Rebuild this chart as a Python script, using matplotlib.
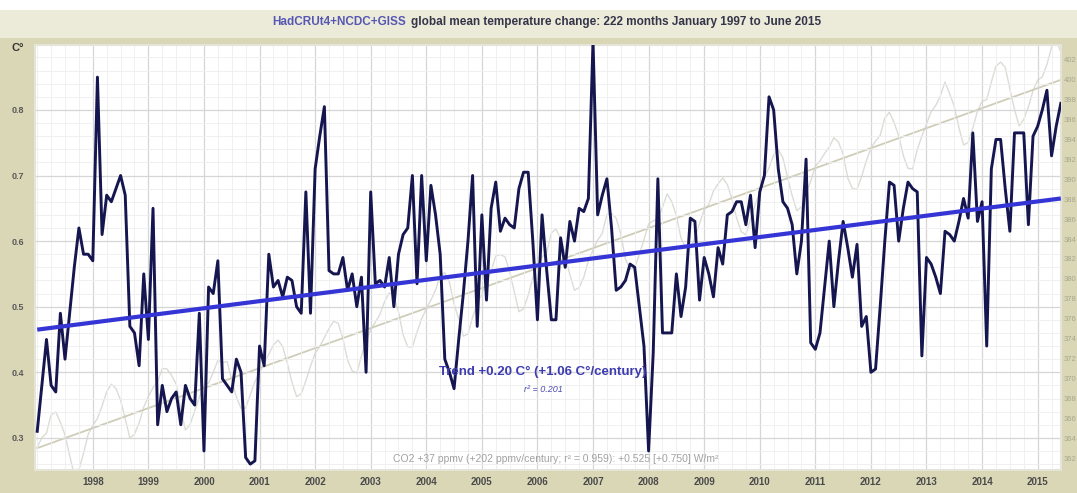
import numpy as np
import matplotlib
matplotlib.use("Agg")
import matplotlib.pyplot as plt
from matplotlib.ticker import MultipleLocator

plt.rcParams["font.family"] = ["Liberation Sans", "DejaVu Sans"]

# ---- data -------------------------------------------------------------
START_YEAR = 1997
# mean of HadCRUT4, NCDC and GISS monthly anomalies, Jan 1997 .. Jun 2015 (C)
temp = [
    0.31, 0.38, 0.45, 0.38, 0.37, 0.49, 0.42, 0.49, 0.56, 0.62, 0.58, 0.58,
    0.57, 0.85, 0.61, 0.67, 0.66, 0.68, 0.70, 0.67, 0.47, 0.46, 0.41, 0.55,
    0.45, 0.65, 0.32, 0.38, 0.34, 0.36, 0.37, 0.32, 0.38, 0.36, 0.35, 0.49,
    0.28, 0.53, 0.52, 0.57, 0.39, 0.38, 0.37, 0.42, 0.40, 0.27, 0.26, 0.265,
    0.44, 0.41, 0.58, 0.53, 0.54, 0.515, 0.545, 0.54, 0.50, 0.49, 0.675, 0.49,
    0.71, 0.76, 0.805, 0.555, 0.55, 0.55, 0.575, 0.525, 0.55, 0.50, 0.545, 0.40,
    0.675, 0.535, 0.54, 0.53, 0.575, 0.50, 0.58, 0.61, 0.62, 0.70, 0.535, 0.70,
    0.57, 0.685, 0.64, 0.58, 0.42, 0.40, 0.375, 0.45, 0.52, 0.60, 0.70, 0.47,
    0.64, 0.51, 0.65, 0.69, 0.615, 0.635, 0.625, 0.62, 0.68, 0.705, 0.705, 0.60,
    0.48, 0.64, 0.555, 0.48, 0.48, 0.605, 0.56, 0.63, 0.60, 0.65, 0.645, 0.665,
    0.905, 0.64, 0.67, 0.695, 0.62, 0.525, 0.53, 0.54, 0.565, 0.56, 0.50, 0.44,
    0.28, 0.43, 0.695, 0.46, 0.46, 0.46, 0.55, 0.485, 0.53, 0.635, 0.63, 0.51,
    0.575, 0.55, 0.515, 0.59, 0.565, 0.64, 0.645, 0.66, 0.66, 0.625, 0.67, 0.59,
    0.675, 0.70, 0.82, 0.80, 0.71, 0.66, 0.65, 0.625, 0.55, 0.60, 0.725, 0.445,
    0.435, 0.46, 0.53, 0.60, 0.50, 0.57, 0.63, 0.59, 0.545, 0.595, 0.47, 0.485,
    0.40, 0.405, 0.50, 0.60, 0.69, 0.685, 0.60, 0.65, 0.69, 0.68, 0.675, 0.425,
    0.575, 0.565, 0.545, 0.52, 0.615, 0.61, 0.60, 0.63, 0.665, 0.635, 0.765, 0.63,
    0.66, 0.44, 0.71, 0.755, 0.755, 0.68, 0.615, 0.765, 0.765, 0.765, 0.625, 0.76,
    0.775, 0.80, 0.83, 0.73, 0.775, 0.81,
]

# Mauna Loa monthly CO2, ppmv
co2 = [
    363.09, 364.03, 364.51, 366.35, 366.64, 365.59, 364.31, 362.25, 360.29, 360.82, 362.49, 364.38,
    365.27, 365.98, 367.24, 368.66, 369.42, 368.99, 367.82, 365.95, 364.02, 364.40, 365.52, 367.13,
    368.18, 369.07, 369.68, 370.99, 370.96, 370.30, 369.45, 366.90, 364.81, 365.37, 366.72, 368.10,
    369.29, 369.54, 370.60, 371.82, 371.58, 371.70, 369.86, 368.13, 367.00, 367.03, 368.37, 369.67,
    370.59, 371.51, 372.43, 373.37, 373.85, 373.21, 371.51, 369.61, 368.18, 368.45, 369.76, 371.24,
    372.53, 373.20, 374.12, 375.02, 375.76, 375.52, 374.01, 371.85, 370.75, 370.55, 372.25, 373.79,
    374.88, 375.64, 376.45, 377.73, 378.60, 378.28, 376.70, 374.38, 373.17, 373.15, 374.66, 375.99,
    377.00, 377.87, 378.88, 380.35, 380.62, 379.69, 377.47, 376.01, 374.25, 374.46, 376.16, 377.51,
    378.46, 379.73, 380.77, 382.29, 382.45, 382.21, 380.74, 378.74, 376.70, 377.00, 378.35, 380.11,
    381.38, 382.19, 382.67, 384.61, 385.03, 384.05, 382.46, 380.41, 378.85, 379.13, 380.15, 381.82,
    382.89, 383.90, 384.58, 386.50, 386.56, 386.10, 384.50, 381.99, 380.96, 381.12, 382.45, 383.95,
    385.52, 385.82, 386.03, 387.21, 388.54, 387.76, 386.36, 384.09, 383.18, 382.99, 384.19, 385.56,
    386.94, 387.48, 388.82, 389.55, 390.14, 389.48, 388.03, 386.11, 384.74, 384.43, 386.02, 387.42,
    388.71, 390.20, 391.17, 392.46, 393.00, 392.15, 390.20, 388.35, 386.85, 387.24, 388.67, 389.79,
    391.33, 391.86, 392.60, 393.25, 394.19, 393.74, 392.51, 390.13, 389.08, 389.00, 390.28, 391.86,
    393.12, 393.86, 394.40, 396.18, 396.74, 395.71, 394.36, 392.39, 391.11, 391.05, 392.98, 394.34,
    395.55, 396.80, 397.43, 398.41, 399.78, 398.60, 397.32, 395.20, 393.45, 393.70, 395.16, 396.84,
    397.85, 398.01, 399.77, 401.38, 401.78, 401.25, 399.10, 397.03, 395.38, 396.03, 397.28, 398.91,
    399.98, 400.28, 401.54, 403.28, 403.96, 402.80,
]

# linear trends (start value, total change over the period)
temp_trend_start, temp_trend_rise = 0.465, 0.20
co2_trend_start, co2_trend_rise = 363.0, 37.0

years = list(range(1998, 2016))

# ---- figure -----------------------------------------------------------
W, H = 1077, 493
fig = plt.figure(figsize=(W / 100, H / 100), dpi=100, facecolor="#d9d7b6")

# pale title strip and white top margin
fig.patches.append(plt.Rectangle((0, 1 - 38 / H), 1, 28 / H, transform=fig.transFigure,
                                 facecolor="#ecebda", edgecolor="none", zorder=0))
fig.patches.append(plt.Rectangle((0, 1 - 10 / H), 1, 10 / H, transform=fig.transFigure,
                                 facecolor="white", edgecolor="none", zorder=0))

ax = fig.add_axes([35 / W, 1 - 470 / H, (1061 - 35) / W, (470 - 45) / H])

t = START_YEAR + np.arange(len(temp)) / 12.0
t_end = START_YEAR + (len(temp) - 1) / 12.0

ax.set_xlim(1996.96, 2015.42)
ax.set_ylim(0.251, 0.899)

# grid
ax.xaxis.set_minor_locator(MultipleLocator(0.25))
ax.yaxis.set_minor_locator(MultipleLocator(0.02))
ax.grid(which="major", color="#d6d6d6", lw=0.9)
ax.grid(which="minor", color="#eeeeee", lw=0.6)
ax.tick_params(which="both", length=0)
ax.tick_params(axis="y", labelsize=6.5, labelcolor="#5a5a5a", pad=8)
ax.tick_params(axis="x", labelsize=7, labelcolor="#4a4a4a", pad=5)
ax.set_yticks([0.3, 0.4, 0.5, 0.6, 0.7, 0.8])
ax.set_yticklabels(["0.3", "0.4", "0.5", "0.6", "0.7", "0.8"], fontweight="bold")
ax.set_xticks(years)
ax.set_xticklabels([str(y) for y in years], fontweight="bold")
for sp in ax.spines.values():
    sp.set_color("#e4e4d8")
    sp.set_linewidth(1.5)

# CO2 on the right-hand scale
ax2 = ax.twinx()
ax2.set_ylim(360.8, 403.5)
ax2.yaxis.set_major_locator(MultipleLocator(2))
ax2.tick_params(length=0, labelsize=5.5, labelcolor="#a8a78e", pad=2)
for sp in ax2.spines.values():
    sp.set_visible(False)
ax2.plot(t, co2, color="#dcdcd6", lw=1.0, zorder=1)
ax2.plot([START_YEAR, t_end], [co2_trend_start, co2_trend_start + co2_trend_rise],
         color="#cfcdb8", lw=1.3, zorder=1)

# temperature and its trend drawn above the CO2 layer
ax.set_zorder(ax2.get_zorder() + 1)
ax.patch.set_visible(False)
ax2.patch.set_visible(True)
ax2.patch.set_facecolor("white")
ax.plot(t, temp, color="#15154f", lw=2.1, zorder=3)
ax.plot([START_YEAR, t_end], [temp_trend_start, temp_trend_start + temp_trend_rise],
        color="#3535d6", lw=3.0, zorder=4, solid_capstyle="butt")

# ---- labels -----------------------------------------------------------
fig.text(406 / W, 1 - 22 / H, "HadCRUt4+NCDC+GISS", ha="right", va="center",
         fontsize=8.5, fontweight="bold", color="#5656b4")
fig.text(411 / W, 1 - 22 / H,
         "global mean temperature change: 222 months January 1997 to June 2015",
         ha="left", va="center", fontsize=8.5, fontweight="bold", color="#35354a")
fig.text(12 / W, 1 - 48 / H, "C°", ha="left", va="center", fontsize=8,
         fontweight="bold", color="#333333")

fig.text(543 / W, 1 - 372 / H, "Trend +0.20 C° (+1.06 C°/century)", ha="center",
         va="center", fontsize=9.5, fontweight="bold", color="#3c3cb0")
fig.text(543 / W, 1 - 390 / H, "r² = 0.201", ha="center", va="center",
         fontsize=6.5, style="italic", color="#4a4ab0")
fig.text(556 / W, 1 - 459 / H,
         "CO2 +37 ppmv (+202 ppmv/century; r² = 0.959): +0.525 [+0.750] W/m²",
         ha="center", va="center", fontsize=7.5, color="#a2a2a2")

fig.savefig("out.png", dpi=100, facecolor=fig.get_facecolor())
